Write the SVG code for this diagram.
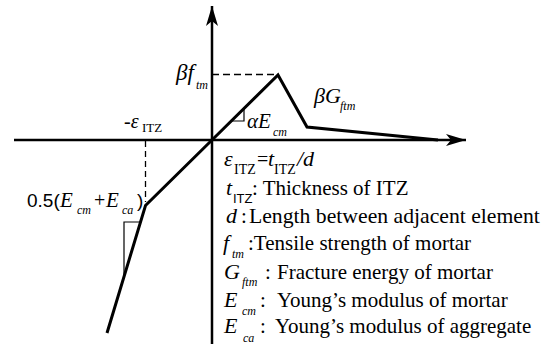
<svg xmlns="http://www.w3.org/2000/svg" width="549" height="344" viewBox="0 0 549 344" font-family="'Liberation Serif', 'DejaVu Serif', serif">
<style>
.it{font-style:italic}
.sans{font-family:'Liberation Sans', Arial, sans-serif}
.ax{stroke:#000;stroke-width:2.5;fill:none}
.cv{stroke:#000;stroke-width:3;fill:none;stroke-linejoin:miter}
.ds{stroke:#000;stroke-width:1.3;fill:none}
.mk{stroke:#000;stroke-width:1.2;fill:none}
.t21{font-size:21px}
.t22{font-size:22px}
.s12{font-size:12px}
</style>
<defs>
<marker id="arr" viewBox="-20 -7 21 14" markerWidth="21" markerHeight="14" refX="0" refY="0" orient="auto" markerUnits="userSpaceOnUse">
<path d="M0,0 L-20,-6 L-15,0 L-20,6 Z" fill="#000"/>
</marker>
</defs>
<g id="connectors">
<line class="ax" x1="14" y1="140" x2="466" y2="140" marker-end="url(#arr)"/>
<line class="ax" x1="212" y1="344" x2="212" y2="6" marker-end="url(#arr)"/>
<polyline class="cv" points="107,333 145.5,205.5 212,140 278,75 307,127 438,140"/>
<line class="ds" x1="212" y1="74.5" x2="278" y2="74.5" stroke-dasharray="7 4"/>
<line class="ds" x1="145.5" y1="141" x2="145.5" y2="202" stroke-dasharray="6 4"/>
<polyline class="mk" points="231.5,121 244,121 244,108.5"/>
<polyline class="mk" points="140.5,222 124,222 124,275"/>
</g>
<g id="label-bfm">
<text class="it" style="font-size:23px" x="176" y="80">βf</text>
<text class="it s12" x="196" y="89">tm</text>
</g>
<g id="label-bG">
<text class="it t22" x="314" y="103">βG</text>
<text class="it s12" x="340" y="110">ftm</text>
</g>
<g id="label-eitz">
<text style="font-size:20px" x="124" y="128">-<tspan class="it">ε</tspan></text>
<text style="font-size:13px" x="142" y="132">ITZ</text>
</g>
<g id="label-aE">
<text class="it t21" x="247" y="128">αE</text>
<text class="it s12" x="273" y="136">cm</text>
</g>
<g id="label-05">
<text class="sans" style="font-size:19px" x="27" y="207">0.5(</text>
<text class="it t21" x="60" y="207">E</text>
<text class="it s12" x="77" y="214">cm</text>
<text style="font-size:20px" x="94" y="207">+</text>
<text class="it t21" x="106" y="207">E</text>
<text class="it s12" x="122" y="214">ca</text>
<text class="sans" style="font-size:19px" x="137" y="207">)</text>
</g>
<g id="legend">
<text class="it t22" x="224" y="166">ε</text>
<text style="font-size:14px" x="234" y="174">ITZ</text>
<text style="font-size:20px" x="257" y="166">=</text>
<text class="it t22" x="268" y="166">t</text>
<text style="font-size:14px" x="274" y="174">ITZ</text>
<text class="it t22" x="297" y="166">/d</text>

<text class="it t22" x="226" y="195">t</text>
<text class="sans" style="font-size:13px" x="233" y="203">ITZ</text>
<text class="t21" x="252" y="195">: Thickness of ITZ</text>

<text class="it t22" x="226" y="223">d</text>
<text class="t21" x="241" y="223">:</text>
<text style="font-size:21.7px" x="249" y="223">Length between adjacent element</text>

<text class="it t22" x="223" y="250">f</text>
<text class="it s12" x="232" y="258">tm</text>
<text class="t21" x="248" y="250">:Tensile strength of mortar</text>

<text class="it t22" x="224" y="279">G</text>
<text class="it s12" x="242" y="286">ftm</text>
<text class="t21" x="265" y="279">:</text>
<text class="t21" x="277" y="279">Fracture energy of mortar</text>

<text class="it t22" x="224" y="307">E</text>
<text class="it s12" x="242" y="315">cm</text>
<text class="t21" x="260" y="307">:</text>
<text class="t21" x="277" y="307">Young’s modulus of mortar</text>

<text class="it t22" x="224" y="333">E</text>
<text class="it s12" x="243" y="342">ca</text>
<text class="t21" x="260" y="333">:</text>
<text class="t21" x="275" y="333">Young’s modulus of aggregate</text>
</g>
</svg>
